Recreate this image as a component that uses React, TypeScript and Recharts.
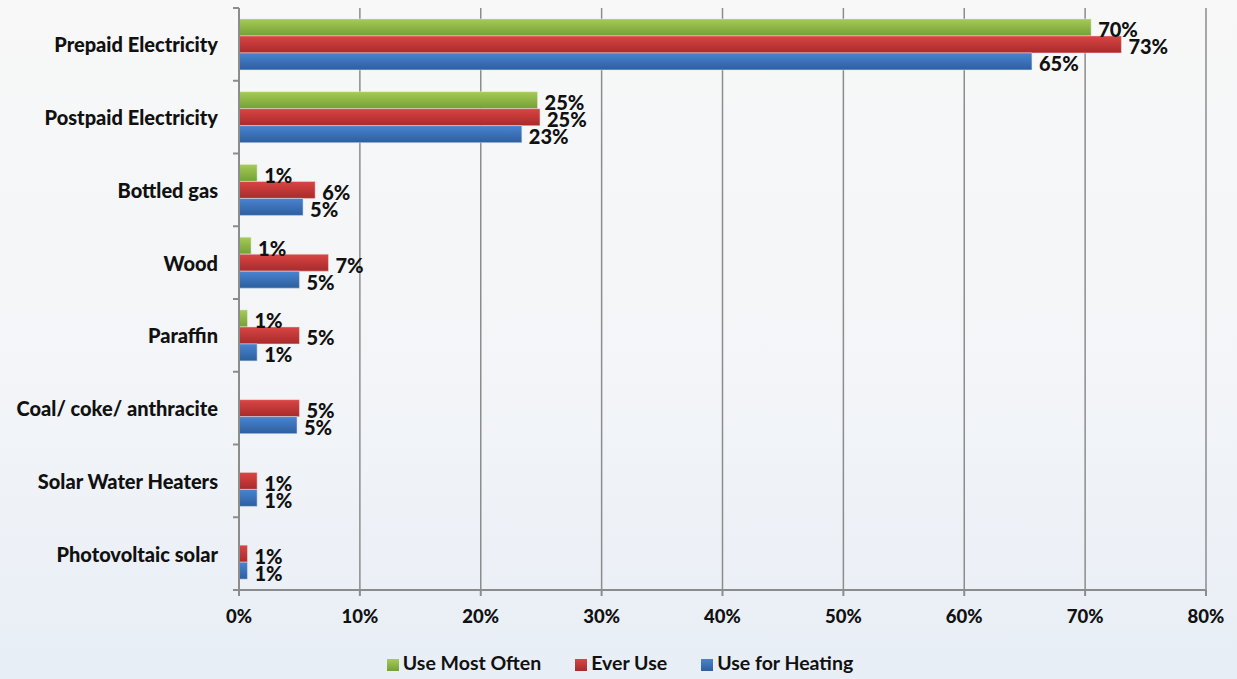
import { Bar, BarChart, CartesianGrid, LabelList, Legend, XAxis, YAxis } from "recharts";

const categories = [
  "Prepaid Electricity",
  "Postpaid Electricity",
  "Bottled gas",
  "Wood",
  "Paraffin",
  "Coal/ coke/ anthracite",
  "Solar Water Heaters",
  "Photovoltaic solar",
];
const seriesNames = ["Use Most Often", "Ever Use", "Use for Heating"];
const useMostOften = [70.5, 24.7, 1.5, 1.0, 0.7, 0, 0, 0];
const everUse = [73.0, 24.9, 6.3, 7.4, 5.0, 5.0, 1.5, 0.7];
const useForHeating = [65.6, 23.4, 5.3, 5.0, 1.5, 4.8, 1.5, 0.7];
const mostOftenLabels = ["70%", "25%", "1%", "1%", "1%", "", "", ""];
const everUseLabels = ["73%", "25%", "6%", "7%", "5%", "5%", "1%", "1%"];
const heatingLabels = ["65%", "23%", "5%", "5%", "1%", "5%", "1%", "1%"];
const xTicks = [0, 10, 20, 30, 40, 50, 60, 70, 80];

const data = categories.map((name, i) => ({
  name,
  mostOften: useMostOften[i],
  ever: everUse[i],
  heating: useForHeating[i],
  mostOftenLabel: mostOftenLabels[i],
  everLabel: everUseLabels[i],
  heatingLabel: heatingLabels[i],
}));

const W = 1237;
const H = 679;
const PLOT_TOP = 8;
const PLOT_BOTTOM = 590;
const HALF_BAND = (PLOT_BOTTOM - PLOT_TOP) / categories.length / 2;
const FONT = "Lato, 'Open Sans', sans-serif";

const BarLabel = (props: any) => {
  const { x, y, width, height, value } = props;
  if (!value) return null;
  return (
    <text
      x={x + width + 7}
      y={y + height / 2 + 2}
      dominantBaseline="central"
      fontFamily={FONT}
      fontWeight={900}
      fontSize={20}
      fill="#111"
    >
      {value}
    </text>
  );
};

const CategoryTick = (props: any) => {
  const { x, y, payload, index } = props;
  return (
    <g>
      <line x1={x + 15} x2={x + 21} y1={y - HALF_BAND} y2={y - HALF_BAND} stroke="#8c8c8c" strokeWidth={2} />
      {index === categories.length - 1 && (
        <line x1={x + 15} x2={x + 21} y1={y + HALF_BAND} y2={y + HALF_BAND} stroke="#8c8c8c" strokeWidth={2} />
      )}
      <text
        x={x}
        y={y}
        textAnchor="end"
        dominantBaseline="central"
        fontFamily={FONT}
        fontWeight={900}
        fontSize={20}
        fill="#111"
      >
        {payload.value}
      </text>
    </g>
  );
};

export default function App() {
  return (
    <div
      style={{
        position: "absolute",
        left: 0,
        top: 0,
        width: W,
        height: H,
        background: "linear-gradient(to bottom, #f8f8f8 0%, #f3f5f8 55%, #e8eef6 100%)",
      }}
    >
      <BarChart
        width={W}
        height={H}
        data={data}
        layout="vertical"
        margin={{ top: PLOT_TOP, right: 31, left: 0, bottom: 0 }}
        barCategoryGap="15%"
        barGap={0}
      >
        <defs>
          <linearGradient id="gGreen" x1="0" y1="0" x2="0" y2="1">
            <stop offset="0%" stopColor="#a6cb57" />
            <stop offset="100%" stopColor="#73a035" />
          </linearGradient>
          <linearGradient id="gRed" x1="0" y1="0" x2="0" y2="1">
            <stop offset="0%" stopColor="#d94545" />
            <stop offset="100%" stopColor="#a92a2a" />
          </linearGradient>
          <linearGradient id="gBlue" x1="0" y1="0" x2="0" y2="1">
            <stop offset="0%" stopColor="#4a83d0" />
            <stop offset="100%" stopColor="#2c5f9f" />
          </linearGradient>
        </defs>
        <CartesianGrid horizontal={false} stroke="#8c8c8c" strokeWidth={1.5} />
        <XAxis
          type="number"
          domain={[0, 80]}
          ticks={xTicks}
          tickFormatter={(v: number) => `${v}%`}
          stroke="#8c8c8c"
          strokeWidth={2}
          tickSize={6}
          tickMargin={14}
          height={51}
          tick={{ fill: "#111", fontFamily: FONT, fontWeight: 900, fontSize: 18.5 }}
        />
        <YAxis
          type="category"
          dataKey="name"
          width={239}
          stroke="#8c8c8c"
          strokeWidth={2}
          tickLine={false}
          tickSize={6}
          tickMargin={15}
          tick={<CategoryTick />}
        />
        <Legend
          verticalAlign="bottom"
          align="center"
          height={28}
          iconType="square"
          iconSize={12}
          itemSorter={(item: any) => seriesNames.indexOf(item.value)}
          wrapperStyle={{ fontFamily: FONT, fontWeight: 700, fontSize: 19.5, paddingLeft: 34, paddingTop: 10 }}
          formatter={(v: string) => <span style={{ color: "#111", marginRight: 24 }}>{v}</span>}
        />
        <Bar dataKey="mostOften" name={seriesNames[0]} fill="url(#gGreen)" stroke="#e8f0dc" strokeWidth={0.5} legendType="square" isAnimationActive={false}>
          <LabelList dataKey="mostOftenLabel" content={<BarLabel />} />
        </Bar>
        <Bar dataKey="ever" name={seriesNames[1]} fill="url(#gRed)" stroke="#f2dcdc" strokeWidth={0.5} legendType="square" isAnimationActive={false}>
          <LabelList dataKey="everLabel" content={<BarLabel />} />
        </Bar>
        <Bar dataKey="heating" name={seriesNames[2]} fill="url(#gBlue)" stroke="#dce6f2" strokeWidth={0.5} legendType="square" isAnimationActive={false}>
          <LabelList dataKey="heatingLabel" content={<BarLabel />} />
        </Bar>
      </BarChart>
    </div>
  );
}
